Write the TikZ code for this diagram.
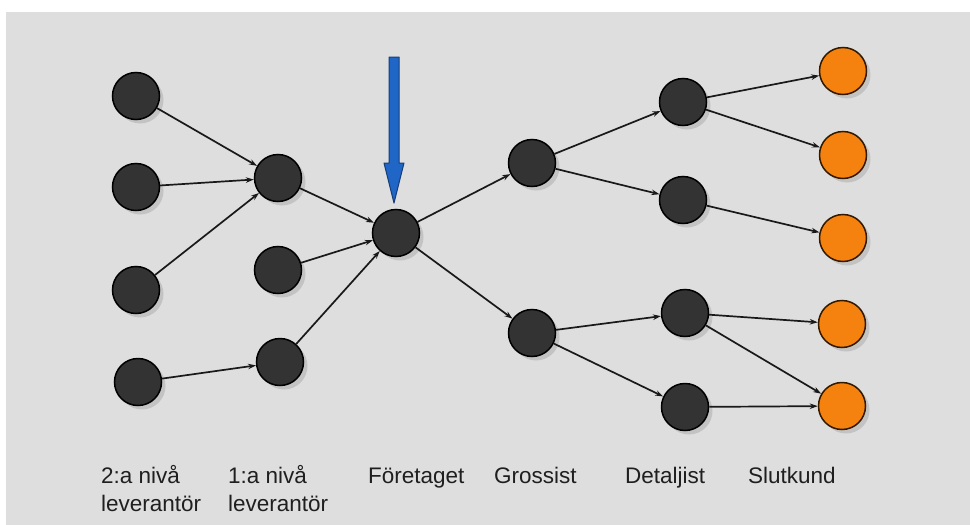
\documentclass[tikz,border=0pt]{standalone}
\usepackage{fontspec}
\setmainfont{Liberation Sans}
\usetikzlibrary{arrows.meta,shadows}
\definecolor{bggrey}{HTML}{DEDEDE}
\definecolor{nodedark}{HTML}{333333}
\definecolor{custorange}{HTML}{F5820F}
\definecolor{arrowblue}{HTML}{1F66C6}
\definecolor{arrowedge}{HTML}{163F7A}
\tikzset{
  dot/.style={circle, minimum size=47pt, inner sep=0pt, draw=black, line width=1.5pt,
    fill=nodedark, drop shadow={shadow xshift=4pt, shadow yshift=-4pt, opacity=0.22, fill=black!60}},
  cust/.style={dot, fill=custorange, draw=black!80!orange},
  link/.style={line width=1.7pt, draw=black!90, -{Stealth[length=8pt,width=5.5pt]}},
  lbl/.style={inner sep=0pt, font=\fontsize{22.5}{27}\selectfont, text=black!88}
}
\begin{document}
\begin{tikzpicture}[x=1pt,y=-1pt]
\useasboundingbox (0,0) rectangle (970,525);
\fill[white] (0,0) rectangle (970,525);
\fill[bggrey] (6,12) rectangle (970,525);
% column 1
\node[dot] (a1) at (136,96) {};
\node[dot] (a2) at (136,187) {};
\node[dot] (a3) at (136,290) {};
\node[dot] (a4) at (138,382) {};
% column 2
\node[dot] (b1) at (278,178) {};
\node[dot] (b2) at (278,270) {};
\node[dot] (b3) at (280,362) {};
% company
\node[dot] (f) at (396,233) {};
% wholesale
\node[dot] (g1) at (532,163) {};
\node[dot] (g2) at (532,333) {};
% retail
\node[dot] (d1) at (683,102) {};
\node[dot] (d2) at (683,200) {};
\node[dot] (d3) at (685,313) {};
\node[dot] (d4) at (685,407) {};
% customers
\node[cust] (s1) at (843,71) {};
\node[cust] (s2) at (843,155) {};
\node[cust] (s3) at (843,238) {};
\node[cust] (s4) at (842,324) {};
\node[cust] (s5) at (842,406) {};
% edges
\draw[link] (a1) -- (b1);
\draw[link] (a2) -- (b1);
\draw[link] (a3) -- (b1);
\draw[link] (a4) -- (b3);
\draw[link] (b1) -- (f);
\draw[link] (b2) -- (f);
\draw[link] (b3) -- (f);
\draw[link] (f) -- (g1);
\draw[link] (f) -- (g2);
\draw[link] (g1) -- (d1);
\draw[link] (g1) -- (d2);
\draw[link] (g2) -- (d3);
\draw[link] (g2) -- (d4);
\draw[link] (d1) -- (s1);
\draw[link] (d1) -- (s2);
\draw[link] (d2) -- (s3);
\draw[link] (d3) -- (s4);
\draw[link] (d3) -- (s5);
\draw[link] (d4) -- (s5);
% blue arrow
\coordinate (tip) at (394,203);
\filldraw[fill=arrowblue, draw=arrowedge, line width=1pt, line join=round]
  (389,57) -- (399,57) -- (399,163) -- (404,163) -- (tip) -- (384,163) -- (389,163) -- cycle;
% labels
\node[lbl, anchor=base west] (l1a) at (101,483) {2:a nivå};
\node[lbl, anchor=base west] (l1b) at (101,511) {leverantör};
\node[lbl, anchor=base west] (l2a) at (228,483) {1:a nivå};
\node[lbl, anchor=base west] (l2b) at (228,511) {leverantör};
\node[lbl, anchor=base west] (l3) at (368,483) {Företaget};
\node[lbl, anchor=base west] (l4) at (494,483) {Grossist};
\node[lbl, anchor=base west] (l5) at (625,483) {Detaljist};
\node[lbl, anchor=base west] (l6) at (748,483) {Slutkund};
\end{tikzpicture}
\end{document}
